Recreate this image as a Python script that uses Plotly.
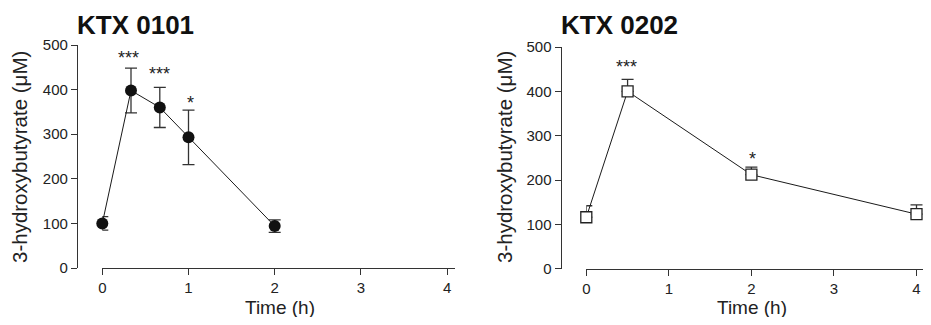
import plotly.graph_objects as go

# the page places the figure 8px in from the window edges (body margin);
# keep the whole figure inside the window so no scrollbars appear
OFF = 8
W, H = 931 - 2 * OFF, 325 - 2 * OFF

# ---- data ----
t_0101 = [0, 0.333, 0.667, 1, 2]
hb_0101 = [100, 398, 360, 293, 94]
err_0101 = [15, 50, 45, 61, 14]
sig_0101_t = [0.3, 0.66, 1.02]
sig_0101_y = [480, 444, 379]
sig_0101_txt = ["***", "***", "*"]

t_0202 = [0, 0.5, 2, 4]
hb_0202 = [116, 400, 212, 123]
err_0202 = [26, 27, 17, 21]
sig_0202_t = [0.49, 2.01]
sig_0202_y = [464, 256]
sig_0202_txt = ["***", "*"]

x_ticks = [0, 1, 2, 3, 4]
y_ticks = [0, 100, 200, 300, 400, 500]

FONT = "Liberation Sans, Arial, sans-serif"
AX = "#333333"

def px(x):
    return (x - OFF) / W

def py(y):
    return 1 - (y - OFF) / H

fig = go.Figure()

fig.add_trace(go.Scatter(
    x=t_0101, y=hb_0101, mode="lines+markers", xaxis="x", yaxis="y",
    line=dict(color="#1a1a1a", width=1),
    marker=dict(symbol="circle", size=12, color="#111111", line=dict(width=0)),
    error_y=dict(type="data", array=err_0101, visible=True, color=AX, thickness=1.3, width=6),
    cliponaxis=False, showlegend=False,
))
fig.add_trace(go.Scatter(
    x=t_0202, y=hb_0202, mode="lines+markers", xaxis="x2", yaxis="y2",
    line=dict(color="#1a1a1a", width=1),
    marker=dict(symbol="square", size=11, color="white", line=dict(width=1.3, color="#222222")),
    error_y=dict(type="data", symmetric=False, array=err_0202, arrayminus=[0]*len(err_0202),
                 visible=True, color=AX, thickness=1.3, width=6),
    cliponaxis=False, showlegend=False,
))

ydom = [py(268), py(45)]
ydom2 = [py(268.7), py(47)]

common_x = dict(showgrid=False, zeroline=False, showline=True, linecolor=AX, linewidth=1.3,
                ticks="outside", ticklen=6, tickwidth=1.3, tickcolor=AX, automargin=False,
                ticklabeloverflow="allow",
                tickvals=x_ticks, tickfont=dict(family=FONT, size=15, color="#222"))
common_y = dict(showgrid=False, zeroline=False, showline=True, linecolor=AX, linewidth=1.3,
                ticks="outside", ticklen=6, tickwidth=1.3, tickcolor=AX, automargin=False,
                tickvals=y_ticks, range=[0, 500], tickfont=dict(family=FONT, size=15, color="#222"))

x1_start, x1_end = 102.3, 455
x2_start = 586.3
x2_end = OFF + W
u2 = (916.5 - x2_start) / 4

fig.update_layout(
    template="none",
    width=W, height=H, margin=dict(l=0, r=0, t=0, b=0, autoexpand=False),
    paper_bgcolor="white", plot_bgcolor="white",
    xaxis=dict(domain=[px(x1_start), px(x1_end)], range=[0, (x1_end - x1_start) / 86.2],
               anchor="y", **common_x),
    yaxis=dict(domain=ydom, anchor="free", position=px(77), **common_y),
    xaxis2=dict(domain=[px(x2_start), 1], range=[0, (x2_end - x2_start) / u2],
                anchor="y2", **common_x),
    yaxis2=dict(domain=ydom2, anchor="free", position=px(560.7), **common_y),
)

ann = []
for t, y, s in zip(sig_0101_t, sig_0101_y, sig_0101_txt):
    ann.append(dict(x=t, y=y, xref="x", yref="y", text=s, showarrow=False,
                    yanchor="middle", yshift=-4, font=dict(family=FONT, size=18, color="#222")))
for t, y, s in zip(sig_0202_t, sig_0202_y, sig_0202_txt):
    ann.append(dict(x=t, y=y, xref="x2", yref="y2", text=s, showarrow=False,
                    yanchor="middle", yshift=-4, font=dict(family=FONT, size=18, color="#222")))

# titles
ann.append(dict(x=px(75), y=py(25), xref="paper", yref="paper", text="<b>KTX 0101</b>",
                showarrow=False, xanchor="left", yanchor="middle",
                font=dict(family=FONT, size=26, color="#111")))
ann.append(dict(x=px(559), y=py(25), xref="paper", yref="paper", text="<b>KTX 0202</b>",
                showarrow=False, xanchor="left", yanchor="middle",
                font=dict(family=FONT, size=26, color="#111")))
# axis titles
for xc in [20, 505]:
    ann.append(dict(x=px(xc), y=py(157), xref="paper", yref="paper", text="3-hydroxybutyrate (μM)",
                    showarrow=False, textangle=-90, xanchor="center", yanchor="middle",
                    font=dict(family=FONT, size=20.5, color="#222")))
for xc in [279.5, 752]:
    ann.append(dict(x=px(xc), y=0, xref="paper", yref="paper", text="Time (h)",
                    showarrow=False, xanchor="center", yanchor="bottom", yshift=-3,
                    font=dict(family=FONT, size=19, color="#222")))

fig.update_layout(annotations=ann)
fig.write_html("out.html")
